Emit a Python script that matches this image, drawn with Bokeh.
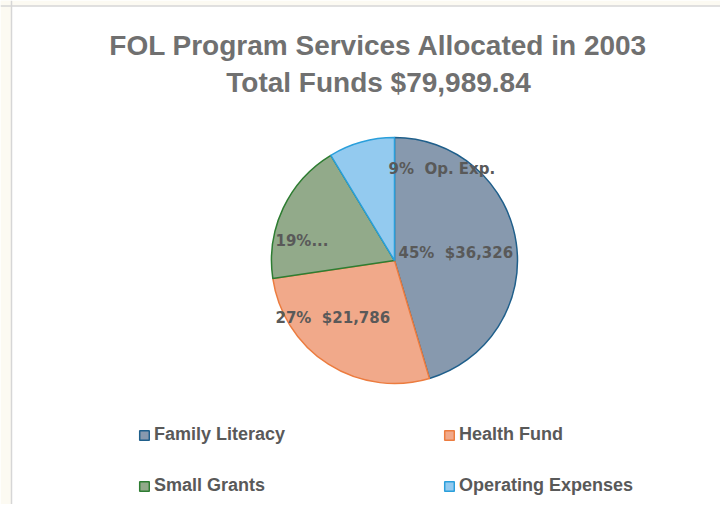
import math
from bokeh.plotting import figure
from bokeh.models import Range1d, Legend, LegendItem, Label, Span, BoxAnnotation
from bokeh.core.properties import value
from bokeh.embed import file_html
from bokeh.resources import INLINE

# ---- data ----
categories = ["Family Literacy", "Health Fund", "Small Grants", "Operating Expenses"]
amounts = [36326, 21786, 14950, 6928]
label_kinds = ["amount", "amount", "truncated", "short"]
short_names = ["", "", "", "Op. Exp."]
title_lines = ["FOL Program Services Allocated in 2003", "Total Funds $79,989.84"]

# ---- styles ----
fills = ["#8799AE", "#F1A98A", "#92AA8A", "#93CAEF"]
lines = ["#1F5F8B", "#EC7C3F", "#2E7D32", "#2A9FDB"]
TXT = "#595959"
TITLE_C = "#707070"
TFONT = "Liberation Sans"
LFONT = "DejaVu Sans"
GFONT = "Liberation Sans"
CREAM = "#FCFAF2"

W, H = 720, 504
p = figure(width=W, height=H, output_backend="svg", toolbar_location=None,
           x_range=Range1d(0, W), y_range=Range1d(0, H), min_border=0,
           background_fill_color="white", border_fill_color="white")
p.axis.visible = False
p.grid.visible = False
p.outline_line_color = None

# chart frame
p.add_layout(BoxAnnotation(right=10.5, fill_color=CREAM, fill_alpha=1, line_alpha=0))
p.add_layout(BoxAnnotation(bottom=H - 5, fill_color=CREAM, fill_alpha=1, line_alpha=0))
p.add_layout(Span(location=11, dimension="height", line_color="#D6D6D6", line_width=1.5))
p.add_layout(Span(location=H - 5.5, dimension="width", line_color="#D6D6D6", line_width=1.5))

cx, cy, R = 394, 244, 123
total = sum(amounts)
starts, ends = [], []
cum = 0.0
for v in amounts:
    starts.append(math.pi / 2 - 2 * math.pi * (cum + v) / total)
    ends.append(math.pi / 2 - 2 * math.pi * cum / total)
    cum += v

renderers = []
for i in range(len(amounts)):
    r = p.wedge(x=cx, y=cy, radius=R, start_angle=starts[i], end_angle=ends[i],
                fill_color=fills[i], line_color=lines[i], line_width=1.5)
    renderers.append(r)

# data labels
NB = "\u00a0"
label_texts = []
for v, kind, sn in zip(amounts, label_kinds, short_names):
    pct = round(v / total * 100)
    if kind == "amount":
        label_texts.append(f"{pct}%{NB}{NB}${v:,.0f}")
    elif kind == "truncated":
        label_texts.append(f"{pct}%...")
    else:
        label_texts.append(f"{pct}%{NB}{NB}{sn}")
label_dx = [4, -119, -119, -6]
label_dy = [8, -57, 20, 92]
p.text(x=[cx + d for d in label_dx], y=[cy + d for d in label_dy], text=label_texts,
       text_color=TXT, text_font=value(LFONT), text_font_style="bold",
       text_font_size="15px", text_align="left", text_baseline="middle")

# title
for i, t in enumerate(title_lines):
    p.add_layout(Label(x=378, y=H - 45 - 37 * i, x_units="screen", y_units="screen", text=t,
                       text_color=TITLE_C, text_font=TFONT, text_font_style="bold",
                       text_font_size="28px", text_align="center", text_baseline="middle"))

order = [0, 2, 1, 3]  # column-major filling -> rows: FL | HF, SG | OE
legend = Legend(items=[LegendItem(label=categories[k], renderers=[renderers[k]]) for k in order],
                ncols=2, location=(138, 8), orientation="vertical",
                glyph_width=12, glyph_height=12, label_standoff=4, label_width=259,
                label_height=20, spacing=30, padding=0, margin=0,
                label_text_font=GFONT, label_text_font_style="bold",
                label_text_font_size="18px", label_text_color=TXT,
                border_line_alpha=0, background_fill_alpha=0)
p.add_layout(legend, "center")

open("out.html", "w").write(file_html(p, INLINE))
